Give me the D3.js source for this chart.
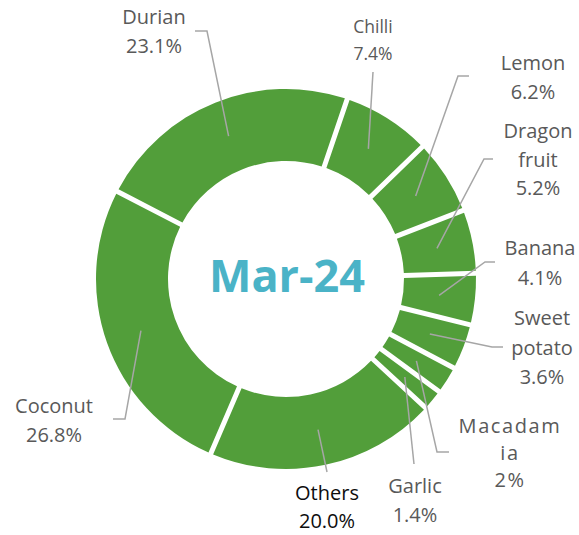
<!DOCTYPE html>
<html>
<head>
<meta charset="utf-8">
<title>Mar-24</title>
<script src="https://cdn.jsdelivr.net/npm/d3@7"></script>
<style>
  body { margin: 0; background: #fff; }
  svg { display: block; font-family: 'Open Sans', sans-serif; }
</style>
</head>
<body>
<script>
// data
var names = ["Chilli", "Lemon", "Dragon fruit", "Banana", "Sweet potato", "Macadamia", "Garlic", "Others", "Coconut", "Durian"];
var values = [7.4, 6.2, 5.2, 4.1, 3.6, 2, 1.4, 20.0, 26.8, 23.1];
var pctLabels = ["7.4%", "6.2%", "5.2%", "4.1%", "3.6%", "2%", "1.4%", "20.0%", "26.8%", "23.1%"];
var nameLines = [["Chilli"], ["Lemon"], ["Dragon", "fruit"], ["Banana"], ["Sweet", "potato"], ["Macadam", "ia"], ["Garlic"], ["Others"], ["Coconut"], ["Durian"]];
var centerTitle = "Mar-24";

// label placement (x centre, first baseline, line height, font size, leader bends)
var labelLayout = [
  {x: 373, y: 33, lh: 27, fs: 17.5, bend: [[373, 72]]},
  {x: 533, y: 70, lh: 29, fs: 20, bend: [[458, 76], [469, 76]]},
  {x: 538, y: 138, lh: 28.5, fs: 20, bend: [[484, 159], [493, 159]]},
  {x: 540, y: 255, lh: 30, fs: 20, bend: [[485, 262], [495, 262]]},
  {x: 542, y: 325, lh: 29.5, fs: 20, bend: [[492, 347], [503, 347]]},
  {x: 510, y: 433, lh: 27, fs: 20, ls: 1.6, bend: [[437, 452], [449, 452]]},
  {x: 415, y: 493, lh: 29, fs: 20, bend: [[414, 464]]},
  {x: 327, y: 500, lh: 28, fs: 20, bend: [[327, 472]], color: "#0d0d0d"},
  {x: 54, y: 413, lh: 29, fs: 20, bend: [[125, 419], [113, 419]]},
  {x: 154, y: 24, lh: 29, fs: 20, bend: [[207, 31], [195, 31]]}
];

var W = 579, H = 535;
var cx = 286, cy = 279;
var rOuter = 190, rInner = 118;
var green = "#529E3A";

var svg = d3.select("body").append("svg").attr("width", W).attr("height", H);

var rows = names.map(function(n, i){ return {name: n, value: values[i], i: i}; });

var startA = 0.328;
var pie = d3.pie().sort(null).value(function(d){ return d.value; })
  .startAngle(startA).endAngle(startA + Math.PI * 2)
  .padAngle(5 / rOuter);

var arc = d3.arc().innerRadius(rInner).outerRadius(rOuter).padRadius(rOuter);

var arcs = pie(rows);

var g = svg.append("g").attr("transform", "translate(" + cx + "," + cy + ")");

g.selectAll("path.slice").data(arcs).enter().append("path")
  .attr("class", "slice")
  .attr("d", arc)
  .attr("fill", green);

// leader lines
var line = d3.line();
svg.selectAll("path.leader").data(arcs).enter().append("path")
  .attr("class", "leader")
  .attr("d", function(d, i){
    var c = arc.centroid(d);
    var pts = [[c[0] + cx, c[1] + cy]].concat(labelLayout[i].bend);
    return line(pts);
  })
  .attr("fill", "none")
  .attr("stroke", "#A6A6A6")
  .attr("stroke-width", 1.5);

// labels
svg.selectAll("text.lbl").data(arcs).enter().append("text")
  .attr("class", "lbl")
  .attr("text-anchor", "middle")
  .attr("fill", function(d, i){ return labelLayout[i].color || "#595959"; })
  .style("font-size", function(d, i){ return labelLayout[i].fs + "px"; })
  .style("letter-spacing", function(d, i){ return (labelLayout[i].ls || 0) + "px"; })
  .each(function(d, i){
    var L = labelLayout[i];
    var lines = nameLines[i].concat([pctLabels[i]]);
    var t = d3.select(this);
    lines.forEach(function(s, k){
      t.append("tspan").attr("x", L.x).attr("y", L.y + k * L.lh).text(s);
    });
  });

// centre title
svg.append("text")
  .attr("x", cx + 1).attr("y", 292)
  .attr("text-anchor", "middle")
  .attr("fill", "#4AB3C7")
  .style("font-size", "45px")
  .style("font-weight", "bold")
  .text(centerTitle);
</script>
</body>
</html>
